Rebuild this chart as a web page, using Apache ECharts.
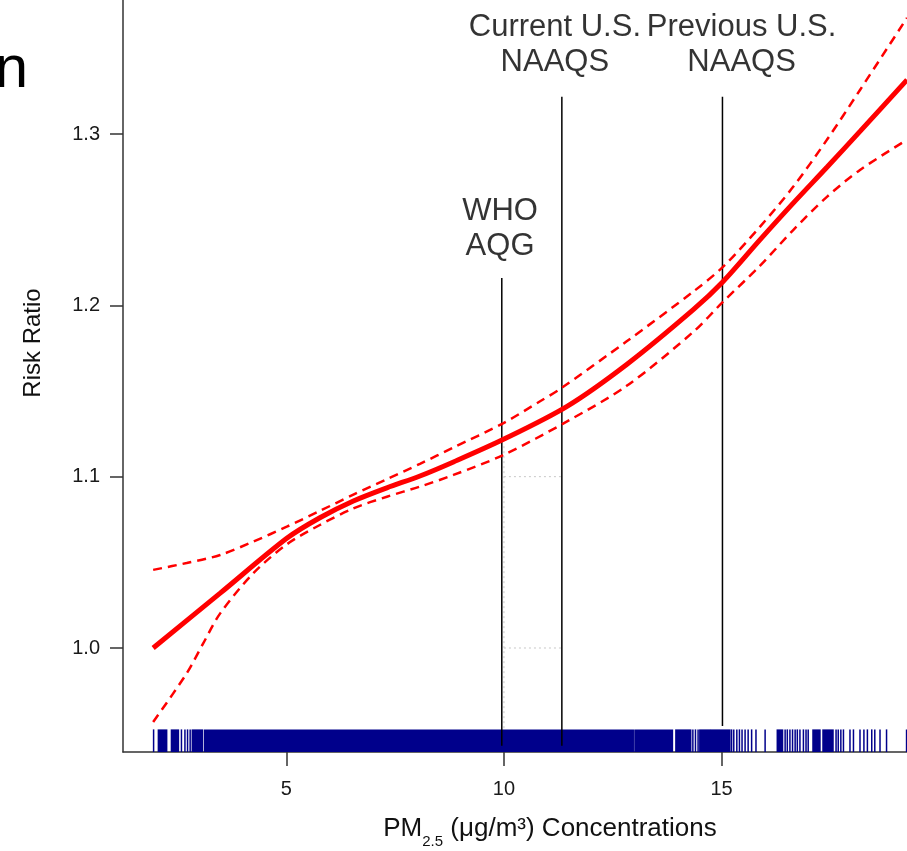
<!DOCTYPE html>
<html>
<head>
<meta charset="utf-8">
<script src="https://cdn.jsdelivr.net/npm/echarts@6/dist/echarts.min.js"></script>
<style>
html,body{margin:0;padding:0;background:#fff;}
#chart{width:907px;height:851px;}
</style>
</head>
<body>
<div id="chart"></div>
<script>
// ---------------- data ----------------
const fitX = [1.94, 3.48, 5.01, 5.77, 6.54, 7.31, 8.07, 8.84, 9.99, 11.44, 12.82, 14.35, 15.03, 15.88, 16.64, 17.42, 18.18, 19.26];
const fitY = [1.000, 1.032, 1.064, 1.0760, 1.0858, 1.0935, 1.1004, 1.1086, 1.1218, 1.1409, 1.1655, 1.1975, 1.2138, 1.2382, 1.2595, 1.2806, 1.3015, 1.3316];

const upperX = [1.94, 2.71, 3.48, 4.24, 5.01, 5.77, 6.54, 7.31, 8.07, 8.84, 9.99, 10.83, 11.29, 12.82, 14.35, 15.03, 15.88, 16.64, 17.42, 18.18, 19.26];
const upperY = [1.0456, 1.0496, 1.0543, 1.0621, 1.0708, 1.0800, 1.0895, 1.0985, 1.1075, 1.1170, 1.1313, 1.1440, 1.1512, 1.1790, 1.2080, 1.2224, 1.2458, 1.2690, 1.2966, 1.3257, 1.3678];

const lowerX = [1.94, 2.71, 3.09, 3.48, 4.24, 5.01, 5.77, 6.54, 7.31, 8.07, 8.84, 9.99, 11.44, 12.82, 14.35, 15.03, 15.88, 16.64, 17.42, 18.18, 19.26];
const lowerY = [0.9568, 0.9852, 1.0027, 1.0202, 1.0436, 1.0605, 1.0718, 1.0815, 1.0883, 1.0942, 1.1010, 1.1127, 1.1321, 1.1530, 1.1845, 1.2020, 1.2230, 1.2438, 1.2633, 1.2790, 1.2966];

// rug: single observations and dense runs of observations
const rugLines = [1.95, 2.59, 2.67, 2.73, 2.79, 14.34, 14.40, 14.46, 15.23, 15.28, 15.35, 15.41, 15.47, 15.54, 15.61, 15.69, 15.79, 16.00,
  16.46, 16.51, 16.57, 16.63, 16.69, 16.74, 16.80, 16.88, 16.94, 16.99, 17.63, 17.68, 17.74, 17.80, 17.95, 18.03, 18.18, 18.27,
  18.35, 18.45, 18.52, 18.64, 18.79, 19.25];
const rugBands = [[2.06, 2.25], [2.36, 2.52], [2.84, 3.07], [3.12, 12.97], [13.01, 13.87], [13.95, 14.29], [14.50, 14.72],
  [14.75, 15.19], [16.28, 16.40], [17.10, 17.26], [17.33, 17.56]];

// reference standards (vertical lines) and their labels
const refX = [9.95, 11.33, 15.02];
const refTop = [1.216, 1.3217, 1.3217];
const refBottom = [0.943, 0.943, 0.9545];
const refLabels = ['WHO\nAQG', 'Current U.S.\nNAAQS', 'Previous U.S.\nNAAQS'];
const refLabelX = [9.91, 11.17, 15.46];
const refLabelY = [1.2445, 1.352, 1.352];

// faint dotted grid remnants
const dotGridY = [1.0, 1.1];

const xTicks = [5, 10, 15];
const yTicks = [1.0, 1.1, 1.2, 1.3];

// ---------------- chart ----------------
const FONT = 'Liberation Sans, Arial, Helvetica, sans-serif';
const X_MIN = 1.247, X_MAX = 19.26, Y_MIN = 0.9393, Y_MAX = 1.3782;
const RUG_TOP = 0.9525;
const RUG_COLOR = '#00008B';
const AXIS_COLOR = '#333';
const SMOOTH = 0.3;

const zip = (xs, ys) => xs.map((x, i) => [x, ys[i]]);

const chart = echarts.init(document.getElementById('chart'), null, {renderer: 'canvas'});

const rugData = rugLines.map(v => [v, v]).concat(rugBands.map(b => [b[0], b[1]]));

const option = {
  animation: false,
  backgroundColor: '#fff',
  grid: {left: 123, right: 0, top: 0, bottom: 99},
  xAxis: {
    type: 'value', min: X_MIN, max: X_MAX,
    splitLine: {show: false},
    axisLine: {show: true, lineStyle: {color: AXIS_COLOR, width: 1.5}},
    axisTick: {show: true, length: 14, customValues: xTicks, lineStyle: {color: AXIS_COLOR, width: 1.5}},
    axisLabel: {customValues: xTicks, fontSize: 20, margin: 27, color: '#1a1a1a', fontFamily: FONT}
  },
  yAxis: {
    type: 'value', min: Y_MIN, max: Y_MAX,
    splitLine: {show: false},
    axisLine: {show: true, lineStyle: {color: AXIS_COLOR, width: 1.5}},
    axisTick: {show: true, length: 13, customValues: yTicks, lineStyle: {color: AXIS_COLOR, width: 1.5}},
    axisLabel: {customValues: yTicks, fontSize: 20, margin: 23, color: '#1a1a1a', fontFamily: FONT,
      formatter: v => v.toFixed(1)}
  },
  graphic: [
    {type: 'text', x: 28, y: 70, style: {text: 'n', fontSize: 60, fontFamily: FONT, fill: '#000',
      align: 'right', verticalAlign: 'middle'}},
    {type: 'text', x: 33, y: 343, rotation: Math.PI / 2, style: {text: 'Risk Ratio', fontSize: 24, fontFamily: FONT,
      fill: '#111', align: 'center', verticalAlign: 'middle'}},
    {type: 'text', x: 550, y: 829, style: {
      text: '{a|PM}{s|2.5}{a| (μg/m³) Concentrations}',
      align: 'center', verticalAlign: 'middle', fill: '#111', fontFamily: FONT,
      rich: {
        a: {fontSize: 26, lineHeight: 40, fontFamily: FONT, fill: '#111', verticalAlign: 'middle'},
        s: {fontSize: 15, lineHeight: 12, fontFamily: FONT, fill: '#111', verticalAlign: 'bottom'}
      }
    }}
  ],
  series: [
    { // dotted grid remnants
      type: 'custom', z: 1, silent: true,
      data: dotGridY.map(y => [y]),
      renderItem: (params, api) => {
        const y = api.value(0);
        const a = api.coord([xTicks[1], y]);
        const b = api.coord([refX[1], y]);
        const els = [{type: 'line', shape: {x1: a[0], y1: a[1], x2: b[0], y2: b[1]},
          style: {stroke: '#c8c8c8', lineWidth: 1, lineDash: [2, 3]}}];
        if (params.dataIndex === 0) {
          const top = api.coord([xTicks[1], fitY[8] - 0.004]);
          const bot = api.coord([xTicks[1], RUG_TOP]);
          els.push({type: 'line', shape: {x1: top[0], y1: top[1], x2: bot[0], y2: bot[1]},
            style: {stroke: '#c8c8c8', lineWidth: 1, lineDash: [2, 3]}});
        }
        return {type: 'group', children: els};
      }
    },
    { // rug
      type: 'custom', z: 2, silent: true,
      data: rugData,
      renderItem: (params, api) => {
        const p0 = api.coord([api.value(0), Y_MIN]);
        const p1 = api.coord([api.value(1), RUG_TOP]);
        return {type: 'rect', shape: {x: p0[0] - 0.75, y: p1[1], width: p1[0] - p0[0] + 1.5, height: p0[1] - p1[1]},
          style: {fill: RUG_COLOR}};
      }
    },
    { // reference lines
      type: 'custom', z: 3, silent: true,
      data: refX.map((x, i) => [x, refBottom[i], refTop[i]]),
      renderItem: (params, api) => {
        const a = api.coord([api.value(0), api.value(1)]);
        const b = api.coord([api.value(0), api.value(2)]);
        return {type: 'line', shape: {x1: a[0], y1: a[1], x2: b[0], y2: b[1]},
          style: {stroke: '#000', lineWidth: 1.5}};
      }
    },
    {
      name: 'upper', type: 'line', z: 4, data: zip(upperX, upperY), symbol: 'none',
      smooth: SMOOTH,
      lineStyle: {color: '#ff0000', width: 2.5, type: [9, 6]}
    },
    {
      name: 'lower', type: 'line', z: 4, data: zip(lowerX, lowerY), symbol: 'none',
      smooth: SMOOTH,
      lineStyle: {color: '#ff0000', width: 2.5, type: [9, 6]}
    },
    {
      name: 'fit', type: 'line', z: 5, data: zip(fitX, fitY), symbol: 'none',
      smooth: SMOOTH,
      lineStyle: {color: '#ff0000', width: 5}
    },
    { // labels for the standards
      type: 'scatter', z: 6, silent: true, symbolSize: 0,
      data: refLabelX.map((x, i) => ({value: [x, refLabelY[i]], name: refLabels[i]})),
      label: {show: true, position: 'inside', formatter: p => p.name, fontSize: 31, lineHeight: 35,
        color: '#000', fontFamily: FONT, align: 'center', verticalAlign: 'middle'}
    }
  ]
};
chart.setOption(option);
</script>
</body>
</html>
